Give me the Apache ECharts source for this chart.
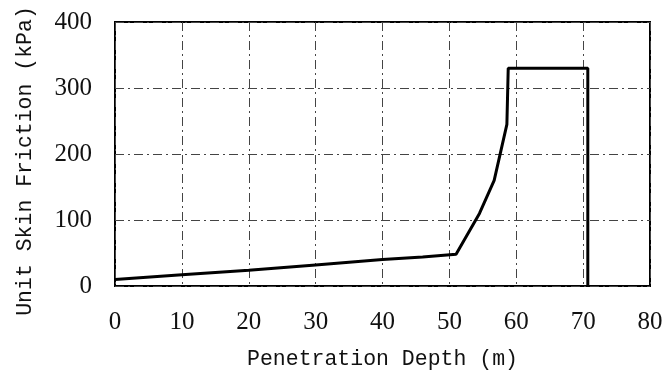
<!DOCTYPE html>
<html>
<head>
<meta charset="utf-8">
<script src="https://cdn.jsdelivr.net/npm/echarts@6/dist/echarts.min.js"></script>
<style>
  html, body { margin: 0; padding: 0; background: #fff; }
  #chart { width: 671px; height: 374px; }
</style>
</head>
<body>
<div id="chart"></div>
<script>
// penetration depth (m) and unit skin friction (kPa)
var depth    = [0, 10, 20, 30, 40, 46, 51, 54.5, 56.7, 58.6, 58.8, 70.7, 70.7];
var friction = [10, 17, 24, 32, 40, 44, 48, 110, 160, 245, 330, 330, 0];
var xTicks = [0, 10, 20, 30, 40, 50, 60, 70, 80];
var yTicks = [0, 100, 200, 300, 400];

var points = depth.map(function (d, i) { return [d, friction[i]]; });

var gridLine = { show: true, lineStyle: { color: '#444', width: 1, type: [9, 4, 2, 4] } };
var tickFont = { fontFamily: 'Liberation Serif', fontSize: 25, color: '#111' };
var nameFont = { fontFamily: 'Liberation Mono', fontSize: 21.5, color: '#111' };

var chart = echarts.init(document.getElementById('chart'));
chart.setOption({
  animation: false,
  grid: {
    left: 115, right: 21, top: 22, bottom: 88,
    outerBoundsMode: 'none', containLabel: false,
    show: true, borderColor: '#000', borderWidth: 2
  },
  xAxis: {
    type: 'value', min: xTicks[0], max: xTicks[xTicks.length - 1], interval: 10,
    name: 'Penetration Depth (m)',
    nameLocation: 'middle', nameGap: 62,
    nameTextStyle: nameFont,
    axisLine: { show: false }, axisTick: { show: false },
    axisLabel: Object.assign({ margin: 24 }, tickFont),
    splitLine: gridLine
  },
  yAxis: {
    type: 'value', min: yTicks[0], max: yTicks[yTicks.length - 1], interval: 100,
    name: 'Unit Skin Friction (kPa)',
    nameLocation: 'middle', nameGap: 79,
    // nudge the rotated title a little down the page
    nameTextStyle: Object.assign({ padding: [0, 14, 0, 0] }, nameFont),
    axisLine: { show: false }, axisTick: { show: false },
    axisLabel: Object.assign({ margin: 23 }, tickFont),
    splitLine: gridLine
  },
  series: [{
    type: 'line',
    data: points,
    showSymbol: false,
    lineStyle: { color: '#000', width: 3 }
  }]
});
</script>
</body>
</html>
